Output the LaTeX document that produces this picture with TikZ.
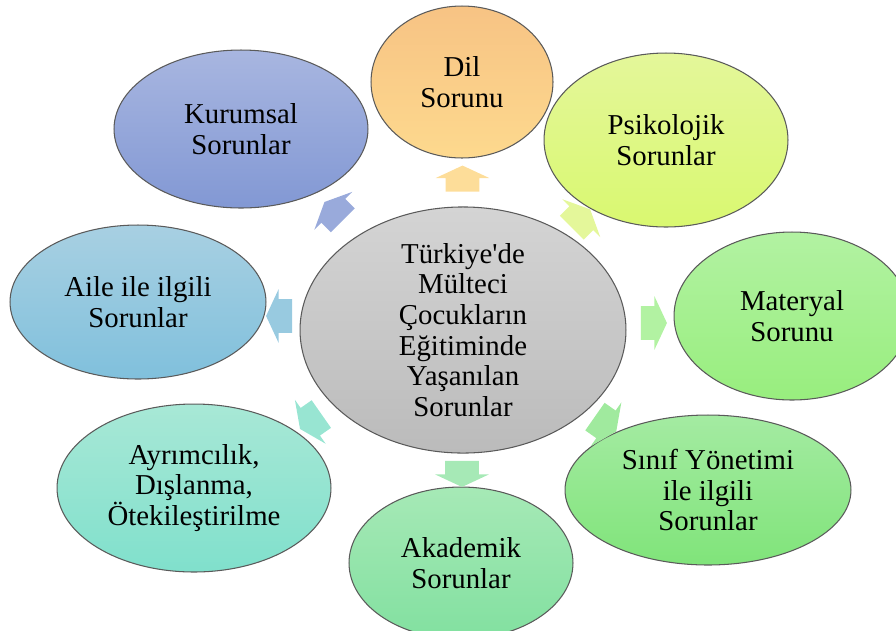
\documentclass[tikz,border=0pt]{standalone}
\usepackage{fontspec}
\setmainfont{Liberation Serif}
\usepackage{tikz}
\usetikzlibrary{shapes.geometric, shapes.arrows}
\usetikzlibrary{calc}

\definecolor{dilust}{HTML}{F7C384}
\definecolor{dilalt}{HTML}{FDD98E}
\definecolor{psiust}{HTML}{E4F79A}
\definecolor{psialt}{HTML}{D9F870}
\definecolor{matust}{HTML}{B2F2A2}
\definecolor{matalt}{HTML}{98EE7E}
\definecolor{sinust}{HTML}{A4EBA2}
\definecolor{sinalt}{HTML}{80E47A}
\definecolor{akaust}{HTML}{A6E9B6}
\definecolor{akaalt}{HTML}{82E0A0}
\definecolor{ayrust}{HTML}{A8E8D6}
\definecolor{ayralt}{HTML}{80E0CC}
\definecolor{aileust}{HTML}{A8D0E2}
\definecolor{ailealt}{HTML}{80C0DC}
\definecolor{kurust}{HTML}{A8B6E0}
\definecolor{kuralt}{HTML}{8298D4}
\definecolor{merust}{HTML}{D4D4D4}
\definecolor{meralt}{HTML}{BBBBBB}
\definecolor{cizgi}{HTML}{5A5A5A}

\tikzset{
  balon/.style={ellipse, draw=cizgi, line width=0.6pt, inner sep=0pt,
    align=center, text=black, font=\fontsize{16.4}{17.5}\selectfont},
  okblok/.style={single arrow, draw=none, inner xsep=0pt, inner ysep=0.33cm,
    minimum height=0.52cm, single arrow head extend=0.2cm,
    single arrow tip angle=130}
}

\begin{document}
\begin{tikzpicture}[x=0.02cm, y=-0.02cm]
  \useasboundingbox (0,0) rectangle (896,630);

  \node[balon, top color=merust, bottom color=meralt, minimum width=6.52cm, minimum height=4.92cm]
    (Merkez) at (463,330) {T\"urkiye\textquotesingle de\\M\"ulteci\\\c{C}ocuklar\i n\\E\u{g}itiminde\\Ya\c{s}an\i lan\\Sorunlar};

  \node[balon, top color=dilust, bottom color=dilalt, minimum width=3.64cm, minimum height=3.04cm]
    (Dil) at (462,82) {Dil\\Sorunu};
  \node[balon, top color=psiust, bottom color=psialt, minimum width=4.88cm, minimum height=3.48cm]
    (Psikolojik) at (666,140) {Psikolojik\\Sorunlar};
  \node[balon, top color=matust, bottom color=matalt, minimum width=4.72cm, minimum height=3.36cm]
    (Materyal) at (792,316) {Materyal\\Sorunu};
  \node[balon, top color=sinust, bottom color=sinalt, minimum width=5.72cm, minimum height=3.0cm]
    (SinifYonetimi) at (708,490) {S\i n\i f Y\"onetimi\\ile ilgili\\Sorunlar};
  \node[balon, top color=akaust, bottom color=akaalt, minimum width=4.48cm, minimum height=3.04cm]
    (Akademik) at (461,563) {Akademik\\Sorunlar};
  \node[balon, top color=ayrust, bottom color=ayralt, minimum width=5.48cm, minimum height=3.36cm]
    (Ayrimcilik) at (194,488) {Ayr\i mc\i l\i k,\\D\i\c{s}lanma,\\\"Otekile\c{s}tirilme};
  \node[balon, top color=aileust, bottom color=ailealt, minimum width=5.12cm, minimum height=3.08cm]
    (Aile) at (138,302) {Aile ile ilgili\\Sorunlar};
  \node[balon, top color=kurust, bottom color=kuralt, minimum width=5.08cm, minimum height=3.16cm]
    (Kurumsal) at (241,129) {Kurumsal\\Sorunlar};

  % oklar
  \node[okblok, fill=dilalt!90, rotate=90] (okDil) at ($(Merkez.north)!0.5!(Dil.south)$) {};
  \node[okblok, fill=psiust, rotate=45] (okPsikolojik) at ($(Merkez.45)!0.5!(Psikolojik.225)$) {};
  \node[okblok, fill=matust, rotate=0] (okMateryal) at ($(Merkez.east)!0.5!(Materyal.west)$) {};
  \node[okblok, fill=sinust!90!sinalt, rotate=-35] (okSinif) at ($(Merkez.-35)!0.5!(SinifYonetimi.145)$) {};
  \node[okblok, fill=akaust, rotate=-90] (okAkademik) at ($(Merkez.south)!0.5!(Akademik.north)$) {};
  \node[okblok, fill=ayrust!60!ayralt, rotate=215] (okAyrimcilik) at ($(Merkez.215)!0.5!(Ayrimcilik.35)$) {};
  \node[okblok, fill=aileust!60!ailealt, rotate=180] (okAile) at ($(Merkez.west)!0.5!(Aile.east)$) {};
  \node[okblok, fill=kurust!60!kuralt, rotate=135] (okKurumsal) at ($(Merkez.135)!0.5!(Kurumsal.-45)$) {};
\end{tikzpicture}
\end{document}
